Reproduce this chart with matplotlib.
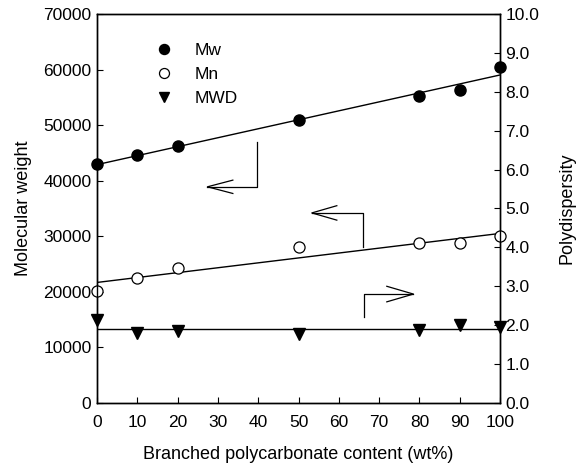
import numpy as np
import matplotlib
matplotlib.use("Agg")
import matplotlib.pyplot as plt

plt.rcParams["font.family"] = ["Liberation Sans", "DejaVu Sans"]

# Branched polycarbonate content (wt%)
content = [0, 10, 20, 50, 80, 90, 100]
# Weight-average and number-average molecular weight
mw = [43000, 44600, 46200, 50900, 55200, 56300, 60500]
mn = [20200, 22500, 24300, 28000, 28800, 28800, 30100]
# Molecular weight distribution (polydispersity, Mw/Mn)
mwd = [2.13, 1.79, 1.86, 1.77, 1.88, 2.00, 1.95]

left_ticks = [0, 10000, 20000, 30000, 40000, 50000, 60000, 70000]
right_ticks = [0.0, 1.0, 2.0, 3.0, 4.0, 5.0, 6.0, 7.0, 8.0, 9.0, 10.0]
x_ticks = [0, 10, 20, 30, 40, 50, 60, 70, 80, 90, 100]

fig = plt.figure(figsize=(5.82, 4.75), dpi=100)
ax = fig.add_axes([0.1667, 0.1516, 0.6925, 0.819])
ax2 = ax.twinx()

x = np.array(content, dtype=float)
xx = np.array([0.0, 100.0])

# Least-squares trend lines through each series
for series in (mw, mn):
    p = np.polyfit(x, series, 1)
    ax.plot(xx, np.polyval(p, xx), color="black", lw=1.0, zorder=2)
p = np.polyfit(x, mwd, 1)
ax2.plot(xx, np.polyval(p, xx), color="black", lw=1.0, zorder=2)

h1, = ax.plot(content, mw, "o", ms=8, mfc="black", mec="black", clip_on=False, zorder=3, label="Mw")
h2, = ax.plot(content, mn, "o", ms=8, mfc="white", mec="black", mew=0.9, clip_on=False, zorder=3, label="Mn")
h3, = ax2.plot(content, mwd, "v", ms=8, mfc="black", mec="black", clip_on=False, zorder=3, label="MWD")

ax.set_xlim(0, 100)
ax.set_ylim(0, 70000)
ax2.set_ylim(0, 10)
ax.set_xticks(x_ticks)
ax.set_yticks(left_ticks)
ax2.set_yticks(right_ticks)
ax2.set_yticklabels([f"{v:.1f}" for v in right_ticks])

for a in (ax, ax2):
    a.tick_params(direction="in", length=4, width=0.8, labelsize=12.5, colors="black", pad=4)
    for s in a.spines.values():
        s.set_linewidth(1.0)
ax.tick_params(axis="x", pad=9)

ax.set_xlabel("Branched polycarbonate content (wt%)", fontsize=13, labelpad=11)
ax.set_ylabel("Molecular weight", fontsize=13, labelpad=8)
ax2.set_ylabel("Polydispersity", fontsize=13, labelpad=14, rotation=90)

# Arrows indicating which axis each series belongs to
def bent_arrow(xv, y0, y1, xtip, xhead, half):
    ax.plot([xv, xv, xtip], [y0, y1, y1], color="black", lw=0.9)
    ax.plot([xhead, xtip, xhead], [y1 + half, y1, y1 - half], color="black", lw=0.9)

bent_arrow(39.7, 47000, 38900, 27.4, 33.7, 1200)
bent_arrow(66.0, 28100, 34200, 53.3, 59.5, 1300)
bent_arrow(66.3, 15500, 19600, 78.5, 71.9, 1400)

leg = ax.legend(handles=[h1, h2, h3], loc="upper left", bbox_to_anchor=(0.105, 0.965),
                frameon=False, fontsize=12.5, handletextpad=1.3, labelspacing=0.5,
                handlelength=1.0, markerscale=0.9)

fig.savefig("out.png", dpi=100)
